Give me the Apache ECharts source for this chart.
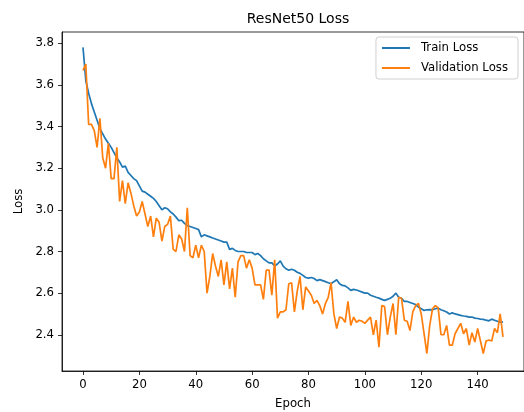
<!DOCTYPE html>
<html>
<head>
<meta charset="utf-8">
<script src="https://cdn.jsdelivr.net/npm/echarts@6/dist/echarts.min.js"></script>
<style>html,body{margin:0;padding:0;background:#fff}#c{width:524px;height:412px}</style>
</head>
<body>
<div id="c"></div>
<script>
const title = "ResNet50 Loss";
const seriesNames = ["Train Loss", "Validation Loss"];
const xTicks = [0, 20, 40, 60, 80, 100, 120, 140];
const yTicks = [2.4, 2.6, 2.8, 3.0, 3.2, 3.4, 3.6, 3.8];
const trainLoss = [
3.78,3.62,3.56,3.51,3.47,3.43,3.39,3.365,3.34,3.32,
3.30,3.275,3.25,3.23,3.205,3.21,3.18,3.165,3.15,3.14,
3.115,3.09,3.085,3.075,3.065,3.055,3.04,3.02,3.00,3.01,
3.005,2.99,2.98,2.965,2.948,2.95,2.935,2.925,2.92,2.915,
2.91,2.905,2.87,2.88,2.875,2.87,2.865,2.86,2.855,2.85,
2.845,2.845,2.81,2.815,2.805,2.80,2.80,2.80,2.795,2.795,
2.795,2.785,2.79,2.78,2.765,2.755,2.745,2.745,2.73,2.74,
2.755,2.73,2.717,2.71,2.715,2.71,2.70,2.695,2.685,2.675,
2.672,2.675,2.67,2.66,2.665,2.66,2.655,2.65,2.645,2.655,
2.664,2.645,2.637,2.635,2.625,2.613,2.618,2.615,2.61,2.605,
2.60,2.60,2.59,2.585,2.58,2.576,2.57,2.565,2.57,2.575,
2.585,2.60,2.58,2.575,2.56,2.56,2.555,2.55,2.545,2.533,
2.525,2.517,2.52,2.521,2.52,2.525,2.528,2.52,2.515,2.509,
2.50,2.505,2.50,2.497,2.493,2.49,2.488,2.485,2.485,2.48,
2.478,2.475,2.474,2.47,2.467,2.475,2.47,2.465,2.46,2.462
];
const valLoss = [
3.67,3.70,3.41,3.41,3.38,3.30,3.44,3.25,3.20,3.32,
3.15,3.15,3.30,3.04,3.14,3.03,3.13,3.08,3.02,2.97,
2.99,3.04,2.98,2.92,2.97,2.87,2.96,2.94,2.85,2.92,
2.93,2.97,2.81,2.80,2.88,2.86,2.80,3.01,2.78,2.77,
2.83,2.77,2.83,2.80,2.60,2.68,2.79,2.73,2.68,2.76,
2.64,2.75,2.62,2.72,2.58,2.75,2.78,2.78,2.72,2.76,
2.72,2.64,2.64,2.64,2.57,2.71,2.71,2.59,2.76,2.48,
2.51,2.51,2.52,2.645,2.65,2.51,2.61,2.68,2.52,2.63,
2.61,2.59,2.55,2.565,2.54,2.50,2.55,2.58,2.65,2.50,
2.43,2.485,2.48,2.46,2.56,2.445,2.485,2.46,2.47,2.465,
2.455,2.47,2.485,2.40,2.47,2.34,2.54,2.535,2.40,2.485,
2.55,2.40,2.58,2.575,2.47,2.465,2.42,2.51,2.54,2.55,
2.50,2.405,2.31,2.445,2.525,2.54,2.53,2.40,2.40,2.445,
2.35,2.35,2.405,2.43,2.455,2.405,2.43,2.35,2.41,2.365,
2.43,2.37,2.31,2.37,2.375,2.37,2.43,2.41,2.50,2.39
];
const epochs = trainLoss.map((_, i) => i);

const font = "DejaVu Sans";
const fs = 11.7;
const chart = echarts.init(document.getElementById('c'), null, {renderer: 'canvas'});
chart.setOption({
  animation: false,
  backgroundColor: '#fff',
  title: {
    text: title, left: 293, top: 7, textAlign: 'center',
    textStyle: {fontFamily: font, fontSize: 14, fontWeight: 'normal', color: '#000'}
  },
  grid: {left: 62, right: 0, top: 32, bottom: 41, show: true, borderColor: '#000', borderWidth: 0.8,
    backgroundColor: 'transparent', containLabel: false, outerBoundsMode: 'none'},
  legend: {
    data: seriesNames, orient: 'vertical', right: 6, top: 37,
    icon: 'rect', itemWidth: 28, itemHeight: 2, itemGap: 6,
    padding: [4, 10, 4, 6],
    backgroundColor: '#fff', borderColor: '#d0d0d0', borderWidth: 1, borderRadius: 3,
    textStyle: {fontFamily: font, fontSize: fs, color: '#000', lineHeight: 14, padding: [0, 0, 0, 6]}
  },
  xAxis: {
    type: 'value', min: -7.45, max: 156.45,
    name: 'Epoch', nameLocation: 'middle', nameGap: 27,
    nameTextStyle: {fontFamily: font, fontSize: fs, color: '#000'},
    axisLine: {show: true, onZero: false, lineStyle: {color: '#000', width: 0.8}},
    axisTick: {show: true, length: 4, lineStyle: {color: '#000', width: 0.8}, customValues: xTicks},
    axisLabel: {fontFamily: font, fontSize: fs, color: '#000', margin: 8, customValues: xTicks},
    splitLine: {show: false}
  },
  yAxis: {
    type: 'value', min: 2.226, max: 3.854,
    name: 'Loss', nameLocation: 'middle', nameGap: 35, nameRotate: 90,
    nameTextStyle: {fontFamily: font, fontSize: fs, color: '#000'},
    axisLine: {show: true, onZero: false, lineStyle: {color: '#000', width: 0.8}},
    axisTick: {show: true, length: 4, lineStyle: {color: '#000', width: 0.8}, customValues: yTicks},
    axisLabel: {fontFamily: font, fontSize: fs, color: '#000', margin: 8, customValues: yTicks,
      formatter: v => v.toFixed(1)},
    splitLine: {show: false}
  },
  series: [
    {name: seriesNames[0], type: 'line', symbol: 'none', data: epochs.map(i => [i, trainLoss[i]]),
     lineStyle: {color: '#1f77b4', width: 1.7}, itemStyle: {color: '#1f77b4'}},
    {name: seriesNames[1], type: 'line', symbol: 'none', data: epochs.map(i => [i, valLoss[i]]),
     lineStyle: {color: '#ff7f0e', width: 1.7}, itemStyle: {color: '#ff7f0e'}}
  ]
});
</script>
</body>
</html>
